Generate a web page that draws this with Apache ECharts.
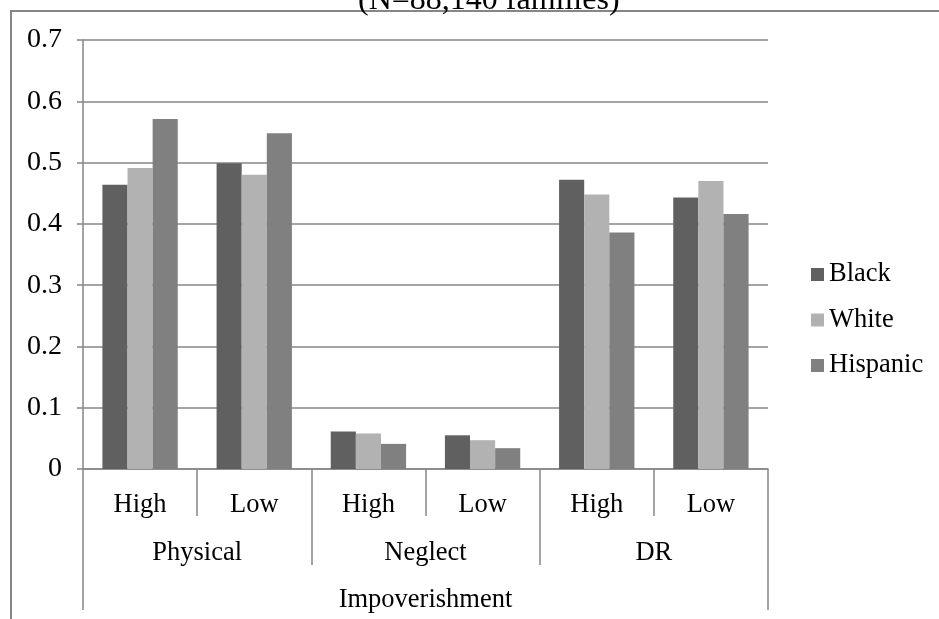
<!DOCTYPE html>
<html>
<head>
<meta charset="utf-8">
<script src="https://cdn.jsdelivr.net/npm/echarts@6/dist/echarts.min.js"></script>
<style>html,body{margin:0;padding:0;background:#fff}#c{width:939px;height:619px}</style>
</head>
<body>
<div id="c"></div>
<script>
var titleText = "(N=88,140 families)";
var levelCats = ["High", "Low", "High", "Low", "High", "Low"];
var groupCats = ["Physical", "Neglect", "DR"];
var topCats = ["Impoverishment"];
var seriesNames = ["Black", "White", "Hispanic"];
var blackVals = [0.464, 0.499, 0.061, 0.055, 0.472, 0.443];
var whiteVals = [0.491, 0.480, 0.058, 0.047, 0.448, 0.470];
var hispanicVals = [0.571, 0.548, 0.041, 0.034, 0.386, 0.416];
var yTicks = { min: 0, max: 0.7, interval: 0.1 };

var FONT = "Liberation Serif";
var FS = 26.5;
var GRAY = "#868686";
var colors = ["#606060", "#b2b2b2", "#808080"];

var chart = echarts.init(document.getElementById('c'), null, { renderer: 'canvas' });

function catAxis(data, tickLen, margin, showLine) {
  return {
    type: 'category', data: data, position: 'bottom', gridIndex: 0,
    axisLine: { show: showLine, lineStyle: { color: GRAY, width: 1.5 } },
    axisTick: { show: true, length: tickLen, alignWithLabel: false, interval: 0, lineStyle: { color: GRAY, width: 1.5 } },
    axisLabel: { interval: 0, margin: margin, color: '#000', fontFamily: FONT, fontSize: FS },
    splitLine: { show: false }
  };
}

var vals = [blackVals, whiteVals, hispanicVals];
var series = seriesNames.map(function (n, i) {
  return {
    name: n, type: 'bar', xAxisIndex: 0, yAxisIndex: 0, data: vals[i],
    barGap: '0%', barCategoryGap: '34%',
    itemStyle: { color: colors[i] }
  };
});

chart.setOption({
  animation: false,
  backgroundColor: '#fff',
  title: {
    text: titleText, left: 353, top: -20,
    textStyle: { fontFamily: FONT, fontSize: 32, fontWeight: 'normal', color: '#000' }
  },
  grid: { left: 83, right: 171, top: 40, bottom: 150, containLabel: false },
  legend: {
    orient: 'vertical', left: 811, top: 261, padding: 0,
    data: seriesNames, icon: 'rect', itemWidth: 13, itemHeight: 13, itemGap: 18.5,
    textStyle: { fontFamily: FONT, fontSize: FS, color: '#000', lineHeight: 26 }
  },
  xAxis: [
    catAxis(levelCats, 47, 23, true),
    catAxis(groupCats, 96, 71, false),
    catAxis(topCats, 141, 118, false)
  ],
  yAxis: {
    type: 'value', min: yTicks.min, max: yTicks.max, interval: yTicks.interval,
    axisLine: { show: true, lineStyle: { color: GRAY, width: 1.5 } },
    axisTick: { show: true, length: 6, lineStyle: { color: GRAY, width: 1.5 } },
    axisLabel: { margin: 21, color: '#000', fontFamily: FONT, fontSize: 28 },
    splitLine: { show: true, lineStyle: { color: GRAY, width: 1.5 } }
  },
  graphic: [{
    type: 'rect', shape: { x: 11, y: 11, width: 1000, height: 1000 },
    style: { fill: null, stroke: GRAY, lineWidth: 2 }, silent: true, z: -1
  }],
  series: series
});
</script>
</body>
</html>
